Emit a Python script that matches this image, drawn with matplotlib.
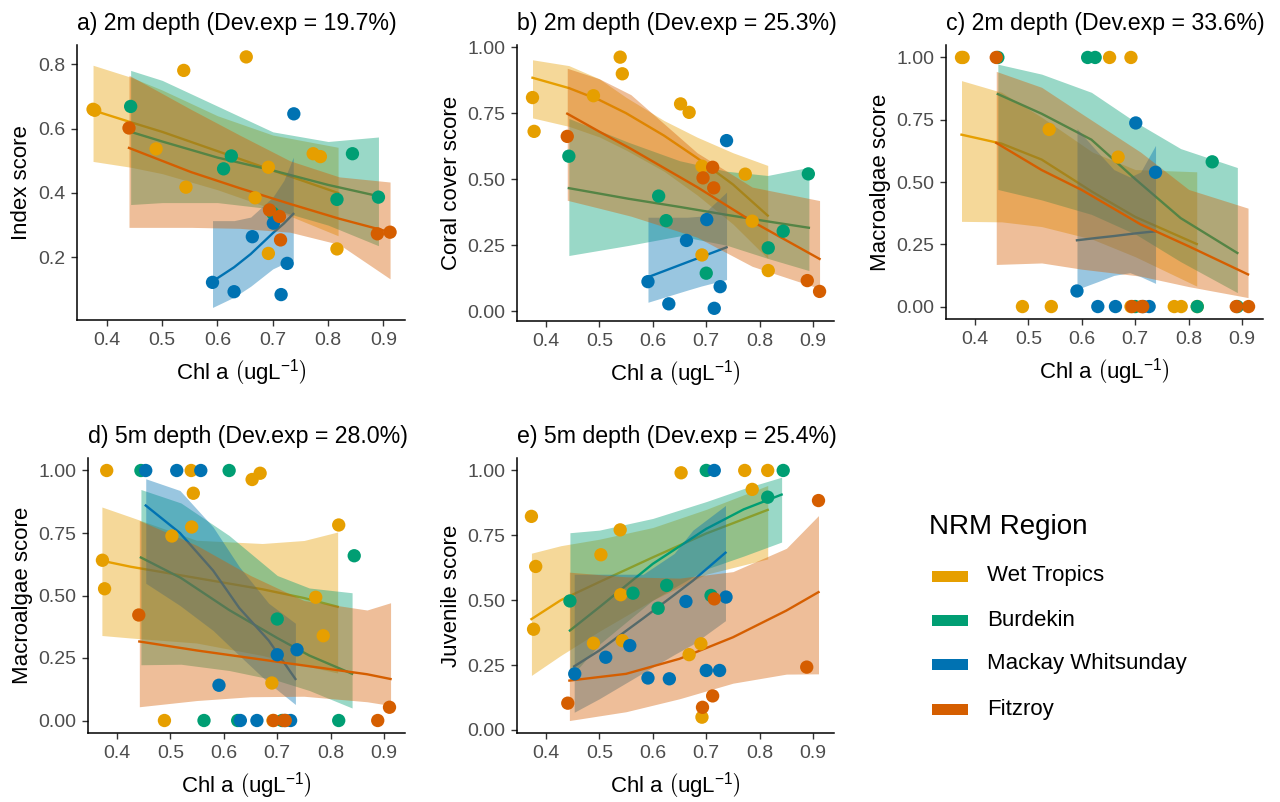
import matplotlib
matplotlib.use("Agg")
from matplotlib import pyplot as plt
from matplotlib.patches import Rectangle

plt.rcParams['font.family'] = ['Liberation Sans', 'DejaVu Sans']
plt.rcParams['mathtext.fontset'] = 'custom'
plt.rcParams['mathtext.rm'] = 'Liberation Sans'
plt.rcParams['mathtext.it'] = 'Liberation Sans:italic'

# regions and colours
regions = ["Wet Tropics", "Burdekin", "Mackay Whitsunday", "Fitzroy"]
colours = ["#E69F00", "#009E73", "#0072B2", "#D55E00"]

# ---- site chl a values, 2m depth
chl_wt_2m = [0.375, 0.378, 0.489, 0.539, 0.543, 0.652, 0.668, 0.692, 0.692, 0.773, 0.786, 0.816]
chl_bd_2m = [0.443, 0.611, 0.625, 0.700, 0.816, 0.844, 0.891]
chl_mw_2m = [0.591, 0.630, 0.663, 0.701, 0.715, 0.726, 0.738]
chl_fz_2m = [0.440, 0.694, 0.712, 0.714, 0.889, 0.912]

# ---- site chl a values, 5m depth
chl_wt_5m = [0.373, 0.377, 0.381, 0.489, 0.503, 0.539, 0.540, 0.543, 0.653, 0.668, 0.690, 0.692, 0.772, 0.786, 0.815]
chl_bd_5m = [0.445, 0.563, 0.610, 0.626, 0.700, 0.709, 0.815, 0.844]
chl_mw_5m = [0.454, 0.512, 0.557, 0.591, 0.631, 0.662, 0.700, 0.715, 0.725, 0.737]
chl_fz_5m = [0.441, 0.693, 0.712, 0.715, 0.888, 0.910]

# a) index score 2m
index_wt = [0.660, 0.657, 0.537, 0.781, 0.418, 0.823, 0.385, 0.480, 0.212, 0.522, 0.513, 0.226]
index_bd = [0.669, 0.475, 0.515, 0.337, 0.380, 0.522, 0.387]
index_mw = [0.122, 0.093, 0.264, 0.306, 0.084, 0.181, 0.646]
index_fz = [0.602, 0.347, 0.327, 0.254, 0.273, 0.278]

# b) coral cover 2m
coral_wt = [0.809, 0.681, 0.816, 0.962, 0.899, 0.785, 0.753, 0.549, 0.213, 0.519, 0.341, 0.154]
coral_bd = [0.587, 0.436, 0.343, 0.144, 0.240, 0.303, 0.520]
coral_mw = [0.112, 0.028, 0.268, 0.347, 0.011, 0.093, 0.646]
coral_fz = [0.662, 0.505, 0.545, 0.467, 0.116, 0.075]

# c) macroalgae 2m
macro2_wt = [1, 1, 0, 0.711, 0, 1, 0.60, 1, 0, 0, 0, 0]
macro2_bd = [1, 1, 1, 0, 0, 0.581, 0]
macro2_mw = [0.0625, 0, 0, 0.737, 0, 0, 0.539]
macro2_fz = [1, 0, 0, 0, 0, 0]

# d) macroalgae 5m
macro5_wt = [0.641, 0.527, 1.0, 0, 0.738, 1.0, 0.774, 0.909, 0.964, 0.989, 0.15, 0, 0.493, 0.339, 0.782]
macro5_bd = [1, 0, 1, 0, 0.406, 0, 0, 0.659]
macro5_mw = [1, 1, 1, 0.141, 0, 0, 0.263, 0, 0, 0.283]
macro5_fz = [0.422, 0, 0, 0, 0, 0.053]

# e) juvenile 5m
juv_wt = [0.823, 0.388, 0.630, 0.334, 0.675, 0.771, 0.521, 0.344, 0.991, 0.290, 0.332, 0.049, 1.0, 0.927, 1.0]
juv_bd = [0.497, 0.527, 0.469, 0.557, 1.0, 0.518, 0.897, 1.0]
juv_mw = [0.216, 0.280, 0.325, 0.200, 0.197, 0.495, 0.229, 1.0, 0.229, 0.512]
juv_fz = [0.103, 0.087, 0.131, 0.505, 0.242, 0.884]

# ---- fitted curves (x, fit, lower, upper)
a_wt_x = [0.375, 0.443, 0.5, 0.6, 0.7, 0.818]
a_wt_fit = [0.657, 0.62, 0.59, 0.53, 0.47, 0.40]
a_wt_lo = [0.498, 0.48, 0.46, 0.41, 0.35, 0.267]
a_wt_hi = [0.797, 0.76, 0.72, 0.64, 0.58, 0.542]
a_bd_x = [0.443, 0.5, 0.6, 0.7, 0.8, 0.891]
a_bd_fit = [0.59, 0.56, 0.51, 0.47, 0.425, 0.39]
a_bd_lo = [0.364, 0.37, 0.37, 0.35, 0.30, 0.236]
a_bd_hi = [0.781, 0.75, 0.67, 0.59, 0.56, 0.574]
a_mw_x = [0.591, 0.63, 0.66, 0.70, 0.72, 0.737]
a_mw_fit = [0.125, 0.169, 0.21, 0.275, 0.305, 0.335]
a_mw_lo = [0.044, 0.076, 0.11, 0.164, 0.18, 0.19]
a_mw_hi = [0.314, 0.314, 0.325, 0.387, 0.439, 0.511]
a_fz_x = [0.44, 0.552, 0.64, 0.731, 0.82, 0.912]
a_fz_fit = [0.54, 0.465, 0.415, 0.366, 0.32, 0.278]
a_fz_lo = [0.293, 0.293, 0.29, 0.278, 0.24, 0.133]
a_fz_hi = [0.766, 0.66, 0.58, 0.50, 0.45, 0.434]

b_wt_x = [0.375, 0.443, 0.5, 0.55, 0.621, 0.683, 0.75, 0.815]
b_wt_fit = [0.884, 0.845, 0.80, 0.75, 0.665, 0.58, 0.48, 0.362]
b_wt_lo = [0.732, 0.70, 0.66, 0.61, 0.53, 0.44, 0.33, 0.20]
b_wt_hi = [0.952, 0.93, 0.88, 0.81, 0.722, 0.659, 0.60, 0.552]
b_bd_x = [0.443, 0.554, 0.65, 0.738, 0.815, 0.892]
b_bd_fit = [0.466, 0.426, 0.395, 0.365, 0.34, 0.316]
b_bd_lo = [0.211, 0.249, 0.285, 0.25, 0.20, 0.154]
b_bd_hi = [0.73, 0.64, 0.57, 0.53, 0.514, 0.545]
b_mw_x = [0.591, 0.665, 0.69, 0.738]
b_mw_fit = [0.129, 0.186, 0.205, 0.242]
b_mw_lo = [0.034, 0.08, 0.095, 0.12]
b_mw_hi = [0.356, 0.356, 0.36, 0.451]
b_fz_x = [0.44, 0.5, 0.559, 0.683, 0.786, 0.912]
b_fz_fit = [0.748, 0.68, 0.615, 0.47, 0.34, 0.198]
b_fz_lo = [0.42, 0.39, 0.36, 0.28, 0.17, 0.086]
b_fz_hi = [0.92, 0.88, 0.82, 0.60, 0.47, 0.419]

c_wt_x = [0.375, 0.45, 0.525, 0.62, 0.7, 0.815]
c_wt_fit = [0.69, 0.654, 0.59, 0.46, 0.36, 0.251]
c_wt_lo = [0.342, 0.34, 0.321, 0.27, 0.20, 0.082]
c_wt_hi = [0.907, 0.86, 0.76, 0.62, 0.55, 0.541]
c_bd_x = [0.443, 0.525, 0.618, 0.701, 0.785, 0.891]
c_bd_fit = [0.853, 0.774, 0.67, 0.51, 0.355, 0.215]
c_bd_lo = [0.47, 0.428, 0.37, 0.29, 0.18, 0.056]
c_bd_hi = [0.973, 0.933, 0.86, 0.74, 0.634, 0.558]
c_mw_x = [0.591, 0.63, 0.66, 0.69, 0.71, 0.738]
c_mw_fit = [0.266, 0.276, 0.283, 0.291, 0.296, 0.302]
c_mw_lo = [0.069, 0.10, 0.125, 0.136, 0.12, 0.093]
c_mw_hi = [0.714, 0.62, 0.55, 0.52, 0.54, 0.647]
c_fz_x = [0.44, 0.525, 0.6, 0.71, 0.8, 0.911]
c_fz_fit = [0.657, 0.548, 0.468, 0.33, 0.242, 0.129]
c_fz_lo = [0.169, 0.175, 0.15, 0.122, 0.08, 0.036]
c_fz_hi = [0.944, 0.88, 0.774, 0.62, 0.47, 0.395]

d_wt_x = [0.372, 0.426, 0.549, 0.672, 0.75, 0.813]
d_wt_fit = [0.639, 0.615, 0.57, 0.525, 0.49, 0.455]
d_wt_lo = [0.34, 0.33, 0.31, 0.26, 0.22, 0.19]
d_wt_hi = [0.854, 0.814, 0.721, 0.708, 0.72, 0.754]
d_bd_x = [0.445, 0.52, 0.61, 0.7, 0.76, 0.84]
d_bd_fit = [0.652, 0.57, 0.442, 0.33, 0.26, 0.187]
d_bd_lo = [0.223, 0.225, 0.20, 0.16, 0.12, 0.05]
d_bd_hi = [0.924, 0.87, 0.74, 0.58, 0.53, 0.511]
d_mw_x = [0.454, 0.518, 0.58, 0.629, 0.684, 0.734]
d_mw_fit = [0.86, 0.75, 0.60, 0.45, 0.32, 0.166]
d_mw_lo = [0.549, 0.46, 0.36, 0.26, 0.15, 0.064]
d_mw_hi = [0.967, 0.92, 0.774, 0.615, 0.469, 0.389]
d_fz_x = [0.442, 0.55, 0.65, 0.75, 0.868, 0.912]
d_fz_fit = [0.316, 0.28, 0.25, 0.22, 0.185, 0.166]
d_fz_lo = [0.055, 0.08, 0.095, 0.097, 0.075, 0.06]
d_fz_hi = [0.80, 0.70, 0.58, 0.48, 0.442, 0.471]

e_wt_x = [0.373, 0.428, 0.5, 0.6, 0.7, 0.815]
e_wt_fit = [0.427, 0.50, 0.57, 0.665, 0.757, 0.848]
e_wt_lo = [0.21, 0.287, 0.38, 0.50, 0.60, 0.659]
e_wt_hi = [0.681, 0.71, 0.735, 0.78, 0.85, 0.942]
e_bd_x = [0.445, 0.5, 0.6, 0.7, 0.77, 0.841]
e_bd_fit = [0.383, 0.473, 0.64, 0.775, 0.85, 0.907]
e_bd_lo = [0.20, 0.33, 0.50, 0.62, 0.67, 0.724]
e_bd_hi = [0.76, 0.77, 0.815, 0.88, 0.93, 0.974]
e_mw_x = [0.453, 0.5, 0.582, 0.64, 0.675, 0.736]
e_mw_fit = [0.245, 0.306, 0.43, 0.52, 0.575, 0.683]
e_mw_lo = [0.068, 0.12, 0.22, 0.29, 0.33, 0.421]
e_mw_hi = [0.60, 0.60, 0.60, 0.68, 0.77, 0.865]
e_fz_x = [0.444, 0.55, 0.65, 0.75, 0.85, 0.91]
e_fz_fit = [0.19, 0.216, 0.274, 0.357, 0.46, 0.531]
e_fz_lo = [0.036, 0.07, 0.12, 0.18, 0.215, 0.216]
e_fz_hi = [0.608, 0.59, 0.585, 0.61, 0.70, 0.826]

titles = ["a) 2m depth (Dev.exp = 19.7%)", "b) 2m depth (Dev.exp = 25.3%)",
          "c) 2m depth (Dev.exp = 33.6%)", "d) 5m depth (Dev.exp = 28.0%)",
          "e) 5m depth (Dev.exp = 25.4%)"]
ylabels = ["Index score", "Coral cover score", "Macroalgae score",
           "Macroalgae score", "Juvenile score"]

W, H = 1280, 802
fig = plt.figure(figsize=(W / 100, H / 100), dpi=100)

def px_axes(left, top, right, bottom):
    return fig.add_axes([left / W, 1 - bottom / H, (right - left) / W, (bottom - top) / H])

# panel boxes in pixels (left, top, right, bottom)
boxes = [(77, 45, 405, 320), (517, 45, 834, 321), (946, 45, 1263, 319),
         (88, 458, 405, 733), (517, 458, 834, 733)]
ylims = [(0.005, 0.86), (-0.037, 1.008), (-0.05, 1.05), (-0.05, 1.05), (-0.012, 1.048)]

panel_points = [
    [(chl_wt_2m, index_wt), (chl_bd_2m, index_bd), (chl_mw_2m, index_mw), (chl_fz_2m, index_fz)],
    [(chl_wt_2m, coral_wt), (chl_bd_2m, coral_bd), (chl_mw_2m, coral_mw), (chl_fz_2m, coral_fz)],
    [(chl_wt_2m, macro2_wt), (chl_bd_2m, macro2_bd), (chl_mw_2m, macro2_mw), (chl_fz_2m, macro2_fz)],
    [(chl_wt_5m, macro5_wt), (chl_bd_5m, macro5_bd), (chl_mw_5m, macro5_mw), (chl_fz_5m, macro5_fz)],
    [(chl_wt_5m, juv_wt), (chl_bd_5m, juv_bd), (chl_mw_5m, juv_mw), (chl_fz_5m, juv_fz)],
]
panel_fits = [
    [(a_wt_x, a_wt_fit, a_wt_lo, a_wt_hi), (a_bd_x, a_bd_fit, a_bd_lo, a_bd_hi),
     (a_mw_x, a_mw_fit, a_mw_lo, a_mw_hi), (a_fz_x, a_fz_fit, a_fz_lo, a_fz_hi)],
    [(b_wt_x, b_wt_fit, b_wt_lo, b_wt_hi), (b_bd_x, b_bd_fit, b_bd_lo, b_bd_hi),
     (b_mw_x, b_mw_fit, b_mw_lo, b_mw_hi), (b_fz_x, b_fz_fit, b_fz_lo, b_fz_hi)],
    [(c_wt_x, c_wt_fit, c_wt_lo, c_wt_hi), (c_bd_x, c_bd_fit, c_bd_lo, c_bd_hi),
     (c_mw_x, c_mw_fit, c_mw_lo, c_mw_hi), (c_fz_x, c_fz_fit, c_fz_lo, c_fz_hi)],
    [(d_wt_x, d_wt_fit, d_wt_lo, d_wt_hi), (d_bd_x, d_bd_fit, d_bd_lo, d_bd_hi),
     (d_mw_x, d_mw_fit, d_mw_lo, d_mw_hi), (d_fz_x, d_fz_fit, d_fz_lo, d_fz_hi)],
    [(e_wt_x, e_wt_fit, e_wt_lo, e_wt_hi), (e_bd_x, e_bd_fit, e_bd_lo, e_bd_hi),
     (e_mw_x, e_mw_fit, e_mw_lo, e_mw_hi), (e_fz_x, e_fz_fit, e_fz_lo, e_fz_hi)],
]

for i in range(5):
    ax = px_axes(*boxes[i])
    # ribbon + line per region, later regions cover earlier lines (like geom_smooth)
    for k, (fx, fy, lo, hi) in enumerate(panel_fits[i]):
        ax.fill_between(fx, lo, hi, color=colours[k], alpha=0.4, linewidth=0, zorder=1 + 2 * k)
        ax.plot(fx, fy, color=colours[k], linewidth=1.7, zorder=2 + 2 * k)
    for k, (px, py) in enumerate(panel_points[i]):
        ax.scatter(px, py, s=92, color=colours[k], edgecolors='none', zorder=20)

    ax.set_xlim(0.346, 0.939)
    ax.set_ylim(*ylims[i])
    ax.set_xticks([0.4, 0.5, 0.6, 0.7, 0.8, 0.9])
    ax.set_xticklabels(["0.4", "0.5", "0.6", "0.7", "0.8", "0.9"])
    if i == 0:
        ax.set_yticks([0.2, 0.4, 0.6, 0.8])
        ax.set_yticklabels(["0.2", "0.4", "0.6", "0.8"])
    else:
        ax.set_yticks([0, 0.25, 0.5, 0.75, 1.0])
        ax.set_yticklabels(["0.00", "0.25", "0.50", "0.75", "1.00"])
    ax.spines['top'].set_visible(False)
    ax.spines['right'].set_visible(False)
    for side in ['left', 'bottom']:
        ax.spines[side].set_linewidth(1.1)
    ax.tick_params(axis='both', labelsize=14, labelcolor='#4D4D4D', length=4, width=1,
                   color='#333333', pad=4.5)
    ax.set_title(titles[i], loc='left', fontsize=16.7, pad=11)
    ax.set_ylabel(ylabels[i], fontsize=16)
    ax.set_xlabel(r"Chl a $\left(\mathrm{ugL}^{-1}\right)$", fontsize=16, labelpad=6)

# legend drawn by hand to keep ggplot spacing
fig.text(929 / W, 1 - 527 / H, "NRM Region", fontsize=20, va='center', ha='left')
key_y = [576, 620, 664, 709]
for k in range(4):
    fig.patches.append(Rectangle((932 / W, 1 - (key_y[k] + 5.5) / H), 36 / W, 11 / H,
                                 transform=fig.transFigure, facecolor=colours[k],
                                 edgecolor='none'))
    fig.text(987 / W, 1 - key_y[k] / H, regions[k], fontsize=16, va='center', ha='left')

fig.savefig("out.png", dpi=100)
